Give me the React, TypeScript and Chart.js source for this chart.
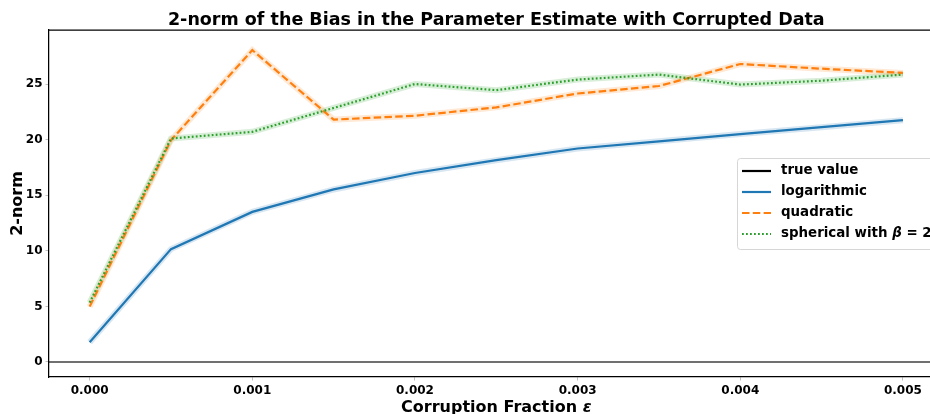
import React, { useEffect, useRef } from "react";
import { Chart, registerables } from "chart.js";

Chart.register(...registerables);

// Corruption fractions (x) and the 2-norm of the bias for each loss
const corruption = [0, 0.0005, 0.001, 0.0015, 0.002, 0.0025, 0.003, 0.0035, 0.004, 0.0045, 0.005];
const logarithmic = [1.77, 10.15, 13.5, 15.52, 17.0, 18.15, 19.2, 19.85, 20.5, 21.12, 21.75];
const quadratic = [4.98, 19.95, 28.05, 21.8, 22.15, 22.9, 24.15, 24.82, 26.8, 26.38, 26.0];
const spherical = [5.34, 20.1, 20.7, 22.85, 25.0, 24.45, 25.4, 25.85, 24.95, 25.3, 25.85];
const trueValue = 0;

const xTicks = [0, 0.001, 0.002, 0.003, 0.004, 0.005];
const yTicks = [0, 5, 10, 15, 20, 25];
const xMin = -0.00025;
const xMax = 0.00525;
const yMin = -1.35;
const yMax = 29.86;

const BLUE = "#1f77b4";
const ORANGE = "#ff7f0e";
const GREEN = "#2ca02c";
const FONT = "'DejaVu Sans', sans-serif";

const toPoints = (ys: number[]) => corruption.map((x, i) => ({ x, y: ys[i] }));

const legendItems = [
  { label: "true value", color: "#000000", dash: [] as number[] },
  { label: "logarithmic", color: BLUE, dash: [] as number[] },
  { label: "quadratic", color: ORANGE, dash: [7.5, 3.3] },
  { label: "spherical with ", color: GREEN, dash: [1.8, 2.2], math: true },
];

const decorations = {
  id: "decorations",
  afterDraw(chart: any) {
    const { ctx, chartArea } = chart;
    const cx = (chartArea.left + chartArea.right) / 2;
    ctx.save();

    // top spine
    ctx.strokeStyle = "#000";
    ctx.lineWidth = 1.25;
    ctx.beginPath();
    ctx.moveTo(chartArea.left, chartArea.top);
    ctx.lineTo(chartArea.right, chartArea.top);
    ctx.stroke();

    // title
    ctx.fillStyle = "#000";
    ctx.font = `bold 17.5px ${FONT}`;
    ctx.textAlign = "center";
    ctx.textBaseline = "alphabetic";
    ctx.fillText("2-norm of the Bias in the Parameter Estimate with Corrupted Data", cx, 25);

    // x axis title with italic epsilon
    const xPart = "Corruption Fraction ";
    ctx.font = `bold 16px ${FONT}`;
    const w1 = ctx.measureText(xPart).width;
    ctx.font = `italic bold 16px ${FONT}`;
    const w2 = ctx.measureText("ε").width;
    const sx = cx - (w1 + w2) / 2;
    ctx.textAlign = "left";
    ctx.font = `bold 16px ${FONT}`;
    ctx.fillText(xPart, sx, 412);
    ctx.font = `italic bold 16px ${FONT}`;
    ctx.fillText("ε", sx + w1, 412);

    // y axis title
    ctx.save();
    ctx.translate(22, (chartArea.top + chartArea.bottom) / 2);
    ctx.rotate(-Math.PI / 2);
    ctx.textAlign = "center";
    ctx.font = `bold 16px ${FONT}`;
    ctx.fillText("2-norm", 0, 0);
    ctx.restore();

    // legend
    const bx = 737.5;
    const by = 158.5;
    const bh = 91;
    const bw = 240;
    const r = 3;
    ctx.beginPath();
    ctx.moveTo(bx + r, by);
    ctx.lineTo(bx + bw - r, by);
    ctx.arcTo(bx + bw, by, bx + bw, by + r, r);
    ctx.lineTo(bx + bw, by + bh - r);
    ctx.arcTo(bx + bw, by + bh, bx + bw - r, by + bh, r);
    ctx.lineTo(bx + r, by + bh);
    ctx.arcTo(bx, by + bh, bx, by + bh - r, r);
    ctx.lineTo(bx, by + r);
    ctx.arcTo(bx, by, bx + r, by, r);
    ctx.closePath();
    ctx.fillStyle = "rgba(255,255,255,0.8)";
    ctx.fill();
    ctx.strokeStyle = "#d6d6d6";
    ctx.lineWidth = 1;
    ctx.stroke();

    const rows = [171, 192, 213, 234];
    legendItems.forEach((item, i) => {
      const y = rows[i];
      ctx.strokeStyle = item.color;
      ctx.lineWidth = 2.2;
      ctx.setLineDash(item.dash);
      ctx.beginPath();
      ctx.moveTo(742, y);
      ctx.lineTo(771, y);
      ctx.stroke();
      ctx.setLineDash([]);
      ctx.fillStyle = "#000";
      ctx.textAlign = "left";
      ctx.textBaseline = "middle";
      ctx.font = `bold 13.4px ${FONT}`;
      ctx.fillText(item.label, 781, y);
      if (item.math) {
        let x = 781 + ctx.measureText(item.label).width;
        ctx.font = `italic bold 13.4px ${FONT}`;
        ctx.fillText("β", x, y);
        x += ctx.measureText("β").width;
        ctx.font = `bold 13.4px ${FONT}`;
        ctx.fillText(" = 2", x, y);
      }
    });
    ctx.restore();
  },
};

export default function App() {
  const ref = useRef<HTMLCanvasElement | null>(null);

  useEffect(() => {
    if (!ref.current) return;
    const halo = (color: string) => color + "2e";
    const chart = new Chart(ref.current, {
      type: "line",
      data: {
        datasets: [
          {
            label: "true value",
            data: [
              { x: xMin, y: trueValue },
              { x: xMax, y: trueValue },
            ],
            borderColor: "rgba(0,0,0,0.75)",
            borderWidth: 1.5,
            pointRadius: 0,
            order: 5,
          },
          {
            label: "logarithmic",
            data: toPoints(logarithmic),
            borderColor: BLUE,
            borderWidth: 2.2,
            pointRadius: 0,
            order: 3,
          },
          {
            label: "quadratic",
            data: toPoints(quadratic),
            borderColor: ORANGE,
            borderWidth: 2.2,
            borderDash: [7.5, 3.3],
            pointRadius: 0,
            order: 2,
          },
          {
            label: "spherical",
            data: toPoints(spherical),
            borderColor: GREEN,
            borderWidth: 2.2,
            borderDash: [1.8, 2.2],
            pointRadius: 0,
            order: 1,
          },
          { label: "", data: toPoints(logarithmic), borderColor: halo(BLUE), borderWidth: 6, pointRadius: 0, order: 10 },
          { label: "", data: toPoints(quadratic), borderColor: halo(ORANGE), borderWidth: 6, pointRadius: 0, order: 10 },
          { label: "", data: toPoints(spherical), borderColor: halo(GREEN), borderWidth: 6, pointRadius: 0, order: 10 },
        ],
      },
      options: {
        responsive: false,
        animation: false,
        devicePixelRatio: 1,
        layout: { padding: { top: 30, left: 0, right: 960 - 943.6, bottom: 0 } },
        plugins: {
          legend: { display: false },
          title: { display: false },
          tooltip: { enabled: false },
        },
        scales: {
          x: {
            type: "linear",
            min: xMin,
            max: xMax,
            afterBuildTicks: (scale: any) => {
              scale.ticks = xTicks.map((v) => ({ value: v }));
            },
            afterFit: (scale: any) => {
              scale.height = 37;
            },
            ticks: {
              callback: (v: any) => Number(v).toFixed(3),
              font: { family: FONT, size: 12, weight: "bold" },
              color: "#000",
              padding: 3,
              maxRotation: 0,
              autoSkip: false,
            },
            grid: { drawOnChartArea: false, drawTicks: true, tickLength: 3.5, color: "#b0b0b0", lineWidth: 0.8 },
            border: { display: true, color: "#000", width: 1.25 },
          },
          y: {
            type: "linear",
            min: yMin,
            max: yMax,
            afterBuildTicks: (scale: any) => {
              scale.ticks = yTicks.map((v) => ({ value: v }));
            },
            afterFit: (scale: any) => {
              scale.width = 49;
            },
            ticks: {
              callback: (v: any) => String(v),
              font: { family: FONT, size: 12, weight: "bold" },
              color: "#000",
              padding: 3,
              autoSkip: false,
            },
            grid: { drawOnChartArea: false, drawTicks: true, tickLength: 3.5, color: "#b0b0b0", lineWidth: 0.8 },
            border: { display: true, color: "#000", width: 1.25 },
          },
        },
      },
      plugins: [decorations],
    });
    return () => chart.destroy();
  }, []);

  return (
    <div style={{ position: "absolute", left: 0, top: 0, width: 930, height: 414, overflow: "hidden", background: "#fff" }}>
      <canvas ref={ref} width={960} height={414} style={{ display: "block" }} />
    </div>
  );
}
